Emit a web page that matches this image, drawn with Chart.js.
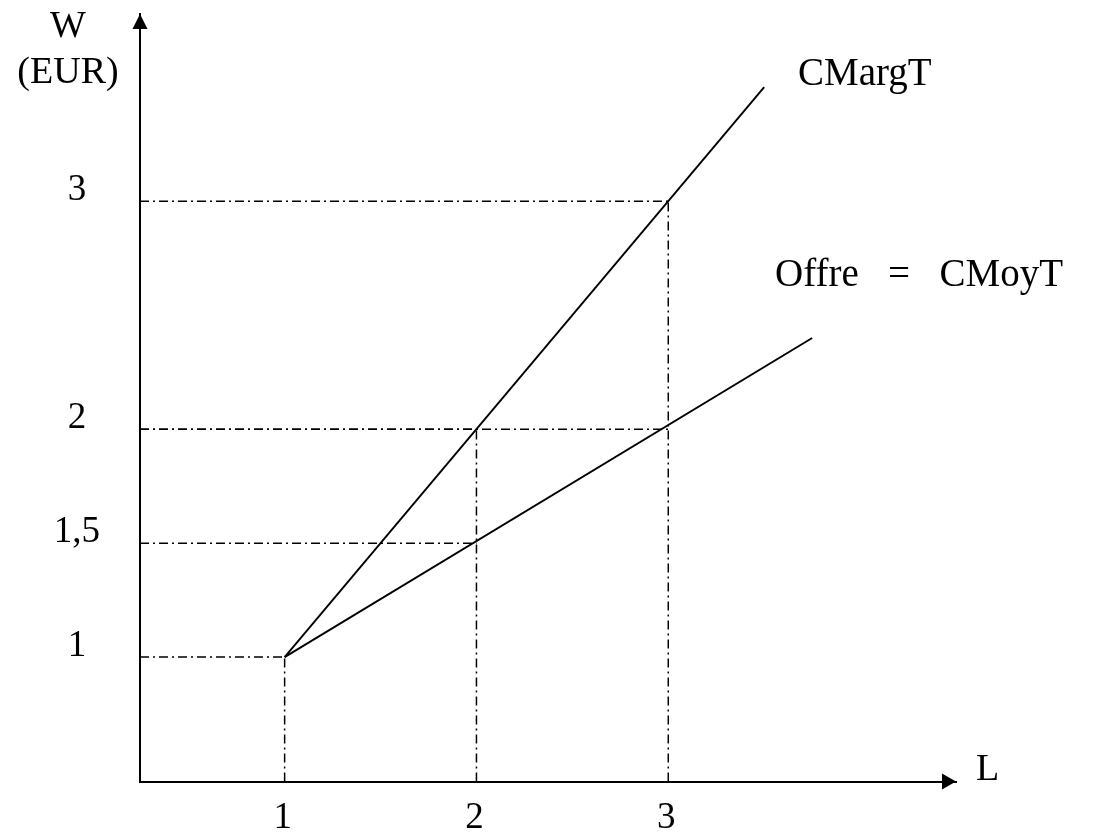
<!DOCTYPE html>
<html><head><meta charset="utf-8">
<script src="https://cdn.jsdelivr.net/npm/chart.js@4.4.1/dist/chart.umd.min.js"></script>
<style>html,body{margin:0;padding:0;background:#fff}#wrap{width:1117px;height:837px}</style>
</head><body><div id="wrap"><canvas id="c" width="1117" height="837"></canvas></div>
<script>
// Quantities L and wage W (EUR)
const cmargX = [1, 3.5];
const cmargY = [1, 3.5];
const offreX = [1, 3.75];
const offreY = [1, 2.4];
// Reference guide points (L, W)
const guideL = [1, 2, 3, 2, 3];
const guideW = [1, 2, 3, 1.5, 2];
const xTicks = [1, 2, 3];
const yTicks = [1, 1.5, 2, 3];
const yTickLabels = ['1', '1,5', '2', '3'];
const FONT = "'Liberation Serif', 'DejaVu Serif', serif";

const X0 = 0.246, X1 = 4.5, Y0 = 0.454, Y1 = 3.821;

const datasets = [];
function line(xs, ys, opts) {
  datasets.push(Object.assign({
    data: xs.map((x, i) => ({x: x, y: ys[i]})),
    borderColor: '#000', borderWidth: 1.9, pointRadius: 0, fill: false, tension: 0
  }, opts || {}));
}
line(cmargX, cmargY);
line(offreX, offreY);
const dash = {borderWidth: 1.5, borderDash: [9, 4, 2, 4]};
for (let i = 0; i < guideL.length; i++) {
  line([X0, guideL[i]], [guideW[i], guideW[i]], dash);
}
for (let i = 0; i < 3; i++) {
  line([guideL[i], guideL[i]], [Y0, guideW[i]], dash);
}

const arrows = {
  id: 'arrows',
  afterDraw(chart) {
    const ctx = chart.ctx, a = chart.chartArea;
    ctx.save();
    ctx.fillStyle = '#000';
    ctx.beginPath();
    ctx.moveTo(a.left, a.top); ctx.lineTo(a.left - 7.5, a.top + 15); ctx.lineTo(a.left + 7.5, a.top + 15); ctx.closePath(); ctx.fill();
    ctx.beginPath();
    ctx.moveTo(a.right, a.bottom); ctx.lineTo(a.right - 14, a.bottom - 8); ctx.lineTo(a.right - 14, a.bottom + 8); ctx.closePath(); ctx.fill();
    ctx.font = "38px " + FONT;
    ctx.textBaseline = 'alphabetic';
    ctx.textAlign = 'center';
    ctx.fillText('W', 68, 37);
    ctx.fillText('(EUR)', 68, 83);
    ctx.textAlign = 'left';
    ctx.fillText('L', 976, 780);
    ctx.font = "39px " + FONT;
    ctx.fillText('CMargT', 798, 85);
    const parts = ['Offre', '=', 'CMoyT'];
    const widths = parts.map(p => ctx.measureText(p).width);
    const total = 288, gap = (total - widths.reduce((s, w) => s + w, 0)) / 2;
    let x = 775;
    parts.forEach((p, i) => { ctx.fillText(p, x, 286); x += widths[i] + gap; });
    ctx.restore();
  }
};

new Chart(document.getElementById('c'), {
  type: 'line',
  data: {datasets: datasets},
  options: {
    responsive: false, animation: false,
    layout: {padding: {left: 0, right: 161, top: 14, bottom: 0}},
    plugins: {legend: {display: false}, tooltip: {enabled: false}},
    scales: {
      x: {
        type: 'linear', min: X0, max: X1,
        afterBuildTicks: s => { s.ticks = xTicks.map(v => ({value: v})); },
        afterFit: s => { s.height = 837 - 781.6; s.paddingLeft = 0; s.paddingRight = 0; },
        grid: {display: false, drawTicks: false},
        border: {display: true, color: '#000', width: 2},
        ticks: {color: '#000', font: {family: FONT, size: 37}, padding: 14, labelOffset: -2, maxRotation: 0}
      },
      y: {
        type: 'linear', min: Y0, max: Y1,
        afterBuildTicks: s => { s.ticks = yTicks.map(v => ({value: v})); },
        afterFit: s => { s.width = 140; s.paddingTop = 0; s.paddingBottom = 0; },
        grid: {display: false, drawTicks: false},
        border: {display: true, color: '#000', width: 2},
        ticks: {color: '#000', font: {family: FONT, size: 37}, padding: 40, labelOffset: -11, crossAlign: 'center',
          callback: (v) => { const i = yTicks.indexOf(v); return i >= 0 ? yTickLabels[i] : ''; }}
      }
    }
  },
  plugins: [arrows]
});
</script></body></html>
